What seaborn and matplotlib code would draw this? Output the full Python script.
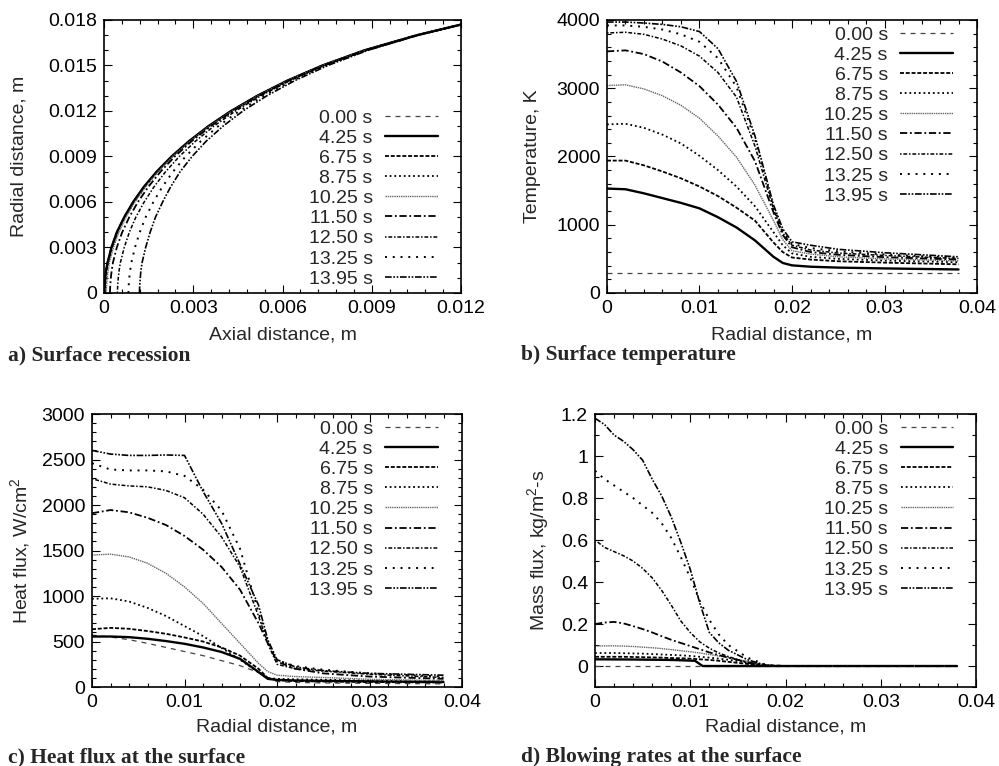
import numpy as np
import pandas as pd
import matplotlib
matplotlib.use("Agg")
import matplotlib.pyplot as plt
from matplotlib.ticker import AutoMinorLocator, FixedLocator, FixedFormatter
import seaborn as sns

# ---------------- data ----------------
labels = ["0.00 s", "4.25 s", "6.75 s", "8.75 s", "10.25 s", "11.50 s", "12.50 s", "13.25 s", "13.95 s"]

# (a) surface recession: radial distance vs axial distance
a_radial = [0, 0.0005, 0.001, 0.0015, 0.002, 0.003, 0.004, 0.005, 0.006, 0.007, 0.008, 0.009,
            0.010, 0.011, 0.012, 0.013, 0.014, 0.015, 0.016, 0.017, 0.0177]
a_000 = [0, 0.000007, 0.000026, 0.000059, 0.000106, 0.000238, 0.000426, 0.00067, 0.000972, 0.001336,
         0.001766, 0.002267, 0.002845, 0.003508, 0.004269, 0.005144, 0.006155, 0.007338, 0.008753,
         0.010515, 0.0120]
a_425 = [0.00001, 0.00002, 0.00004, 0.00007, 0.00012, 0.00025, 0.00043, 0.00068, 0.00098, 0.00134,
         0.00177, 0.00227, 0.00285, 0.00351, 0.00427, 0.00515, 0.00616, 0.00734, 0.00875, 0.01052, 0.0120]
a_675 = [0.00002, 0.00003, 0.00005, 0.00008, 0.00013, 0.00026, 0.00044, 0.00069, 0.00099, 0.00135,
         0.00178, 0.00228, 0.00286, 0.00352, 0.00428, 0.00515, 0.00616, 0.00734, 0.00875, 0.01052, 0.0120]
a_875 = [0.00004, 0.00005, 0.00007, 0.00010, 0.00014, 0.00028, 0.00046, 0.00070, 0.00101, 0.00137,
         0.00179, 0.00229, 0.00287, 0.00352, 0.00428, 0.00516, 0.00616, 0.00734, 0.00876, 0.01052, 0.0120]
a_1025 = [0.00008, 0.00009, 0.00011, 0.00014, 0.00018, 0.00032, 0.00050, 0.00074, 0.00104, 0.00140,
          0.00182, 0.00231, 0.00289, 0.00354, 0.00430, 0.00517, 0.00617, 0.00735, 0.00876, 0.01052, 0.0120]
a_1150 = [0.00020, 0.00021, 0.00023, 0.00026, 0.00030, 0.00043, 0.00061, 0.00085, 0.00114, 0.00149,
          0.00190, 0.00238, 0.00294, 0.00359, 0.00434, 0.00520, 0.00620, 0.00737, 0.00877, 0.01052, 0.0120]
a_1250 = [0.00045, 0.00046, 0.00048, 0.00051, 0.00055, 0.00068, 0.00085, 0.00107, 0.00135, 0.00168,
          0.00207, 0.00253, 0.00307, 0.00369, 0.00442, 0.00527, 0.00625, 0.00741, 0.00880, 0.01054, 0.0120]
a_1325 = [0.00082, 0.00083, 0.00085, 0.00088, 0.00092, 0.00104, 0.00120, 0.00140, 0.00166, 0.00196,
          0.00232, 0.00274, 0.00325, 0.00384, 0.00455, 0.00537, 0.00633, 0.00747, 0.00884, 0.01055, 0.0120]
a_1395 = [0.00119, 0.00120, 0.00122, 0.00124, 0.00128, 0.00140, 0.00155, 0.00173, 0.00197, 0.00224,
          0.00256, 0.00296, 0.00343, 0.00400, 0.00467, 0.00547, 0.00641, 0.00752, 0.00887, 0.01057, 0.0120]

# (b) surface temperature, K
b_radial = [0, 0.002, 0.004, 0.006, 0.008, 0.010, 0.012, 0.014, 0.016, 0.018, 0.019, 0.020, 0.022, 0.025, 0.030, 0.038]
b_000 = [300, 300, 300, 300, 300, 300, 300, 300, 300, 300, 300, 300, 300, 300, 300, 300]
b_425 = [1530, 1520, 1460, 1390, 1320, 1240, 1110, 960, 770, 530, 440, 405, 385, 372, 360, 345]
b_675 = [1940, 1940, 1870, 1780, 1680, 1560, 1420, 1250, 1060, 740, 600, 520, 490, 465, 445, 420]
b_875 = [2470, 2480, 2420, 2320, 2190, 2010, 1800, 1560, 1270, 890, 700, 580, 530, 500, 475, 450]
b_1025 = [3040, 3050, 2990, 2890, 2750, 2560, 2300, 1990, 1580, 1060, 780, 620, 570, 530, 500, 470]
b_1150 = [3540, 3555, 3500, 3390, 3230, 3030, 2760, 2420, 1930, 1180, 850, 670, 600, 560, 525, 490]
b_1250 = [3810, 3820, 3790, 3720, 3620, 3470, 3230, 2870, 2150, 1230, 880, 700, 630, 585, 550, 505]
b_1325 = [3920, 3920, 3900, 3860, 3790, 3680, 3440, 3020, 2250, 1260, 910, 720, 660, 610, 565, 515]
b_1395 = [3970, 3970, 3955, 3935, 3900, 3830, 3580, 3100, 2300, 1290, 940, 750, 700, 640, 590, 530]

# (c) heat flux, W/cm^2
c_radial = [0, 0.002, 0.004, 0.006, 0.008, 0.010, 0.012, 0.014, 0.016, 0.018, 0.019, 0.020, 0.022, 0.025, 0.030, 0.038]
c_000 = [570, 550, 520, 480, 435, 390, 345, 290, 235, 160, 95, 60, 50, 45, 40, 35]
c_425 = [555, 555, 548, 530, 505, 475, 435, 385, 310, 165, 90, 78, 72, 68, 62, 55]
c_675 = [635, 650, 640, 615, 585, 545, 500, 435, 345, 200, 100, 75, 65, 60, 55, 50]
c_875 = [970, 975, 940, 870, 780, 670, 560, 430, 300, 160, 100, 90, 85, 80, 70, 60]
c_1025 = [1450, 1460, 1430, 1360, 1250, 1100, 920, 700, 480, 260, 170, 130, 115, 105, 85, 70]
c_1150 = [1910, 1945, 1920, 1860, 1780, 1660, 1510, 1320, 1070, 700, 480, 280, 200, 150, 115, 90]
c_1250 = [2290, 2230, 2210, 2200, 2160, 2080, 1900, 1650, 1320, 780, 480, 250, 200, 175, 140, 105]
c_1325 = [2460, 2390, 2380, 2380, 2370, 2320, 2170, 1940, 1520, 820, 500, 290, 230, 190, 150, 115]
c_1395 = [2600, 2560, 2545, 2545, 2550, 2545, 2150, 1800, 1350, 900, 520, 300, 220, 180, 150, 130]

# (d) mass flux, kg/m^2-s
d_radial = [0, 0.001, 0.002, 0.003, 0.004, 0.005, 0.006, 0.007, 0.008, 0.009, 0.010, 0.011,
            0.012, 0.013, 0.014, 0.016, 0.018, 0.020, 0.025, 0.030, 0.038]
d_000 = [0] * 21
d_radial_425 = [0, 0.004, 0.008, 0.0105, 0.0113, 0.020, 0.038]
d_425 = [0.032, 0.031, 0.029, 0.025, 0.0, 0.0, 0.0]
d_675 = [0.044, 0.044, 0.044, 0.044, 0.043, 0.042, 0.041, 0.040, 0.038, 0.037, 0.035, 0.032,
         0.029, 0.025, 0.020, 0.010, 0.0, 0, 0, 0, 0]
d_875 = [0.062, 0.062, 0.062, 0.061, 0.060, 0.059, 0.057, 0.055, 0.053, 0.051, 0.048, 0.044,
         0.040, 0.035, 0.030, 0.017, 0.002, 0, 0, 0, 0]
d_1025 = [0.095, 0.096, 0.096, 0.095, 0.093, 0.090, 0.087, 0.083, 0.078, 0.073, 0.068, 0.062,
          0.055, 0.048, 0.040, 0.022, 0.003, 0, 0, 0, 0]
d_1150 = [0.200, 0.207, 0.210, 0.203, 0.190, 0.176, 0.160, 0.142, 0.125, 0.110, 0.095, 0.080,
          0.065, 0.052, 0.040, 0.018, 0.003, 0, 0, 0, 0]
d_1250 = [0.60, 0.565, 0.545, 0.525, 0.50, 0.465, 0.42, 0.36, 0.29, 0.215, 0.16, 0.115,
          0.085, 0.062, 0.045, 0.015, 0.0, 0, 0, 0, 0]
d_1325 = [0.93, 0.89, 0.86, 0.83, 0.80, 0.765, 0.73, 0.68, 0.61, 0.52, 0.42, 0.31,
          0.22, 0.15, 0.10, 0.04, 0.005, 0, 0, 0, 0]
d_1395 = [1.18, 1.15, 1.10, 1.07, 1.03, 0.98, 0.89, 0.81, 0.71, 0.59, 0.46, 0.30,
          0.16, 0.11, 0.075, 0.03, 0.003, 0, 0, 0, 0]

# tick labels
a_xticks = [0, 0.003, 0.006, 0.009, 0.012]
a_xticklabels = ["0", "0.003", "0.006", "0.009", "0.012"]
a_yticks = [0, 0.003, 0.006, 0.009, 0.012, 0.015, 0.018]
a_yticklabels = ["0", "0.003", "0.006", "0.009", "0.012", "0.015", "0.018"]
r_xticks = [0, 0.01, 0.02, 0.03, 0.04]
r_xticklabels = ["0", "0.01", "0.02", "0.03", "0.04"]
b_yticks = [0, 1000, 2000, 3000, 4000]
b_yticklabels = ["0", "1000", "2000", "3000", "4000"]
c_yticks = [0, 500, 1000, 1500, 2000, 2500, 3000]
c_yticklabels = ["0", "500", "1000", "1500", "2000", "2500", "3000"]
d_yticks = [0, 0.2, 0.4, 0.6, 0.8, 1.0, 1.2]
d_yticklabels = ["0", "0.2", "0.4", "0.6", "0.8", "1", "1.2"]

# ---------------- style ----------------
sns.set_style("ticks")
plt.rcParams["font.family"] = ["Liberation Sans", "DejaVu Sans"]
plt.rcParams["mathtext.default"] = "regular"
plt.rcParams["axes.linewidth"] = 1.2

styles = [
    dict(color="#444444", lw=0.9, linestyle=(0, (4, 4))),          # 0.00
    dict(color="black", lw=1.7, linestyle="-"),                     # 4.25
    dict(color="black", lw=1.3, linestyle=(0, (2.2, 1))),           # 6.75
    dict(color="black", lw=1.3, linestyle=(0, (1, 1.6))),           # 8.75
    dict(color="#666666", lw=1.0, linestyle=(0, (1, 0.6))),         # 10.25
    dict(color="black", lw=1.3, linestyle=(0, (4, 1.5, 1, 1.5))),   # 11.50
    dict(color="black", lw=1.1, linestyle=(0, (1, 1.2, 2.5, 1.2))), # 12.50
    dict(color="black", lw=1.4, linestyle=(0, (1, 3))),             # 13.25
    dict(color="black", lw=1.2, linestyle=(0, (4, 1, 1, 1, 1, 1))), # 13.95
]

fig = plt.figure(figsize=(9.99, 7.66), dpi=100)
ax_a = fig.add_axes([0.1041, 0.6175, 0.3574, 0.3564])
ax_b = fig.add_axes([0.6076, 0.6175, 0.3704, 0.3564])
ax_c = fig.add_axes([0.0921, 0.1031, 0.3704, 0.3564])
ax_d = fig.add_axes([0.5956, 0.1031, 0.3814, 0.3564])

FS = 14


def draw(ax, xs_list, ys_list):
    for xs, ys, lab, st in zip(xs_list, ys_list, labels, styles):
        df = pd.DataFrame({"x": xs, "y": ys})
        sns.lineplot(data=df, x="x", y="y", ax=ax, label=lab, sort=False,
                     estimator=None, **st)


draw(ax_a,
     [a_000, a_425, a_675, a_875, a_1025, a_1150, a_1250, a_1325, a_1395],
     [a_radial] * 9)
draw(ax_b, [b_radial] * 9,
     [b_000, b_425, b_675, b_875, b_1025, b_1150, b_1250, b_1325, b_1395])
draw(ax_c, [c_radial] * 9,
     [c_000, c_425, c_675, c_875, c_1025, c_1150, c_1250, c_1325, c_1395])
draw(ax_d, [d_radial, d_radial_425] + [d_radial] * 7,
     [d_000, d_425, d_675, d_875, d_1025, d_1150, d_1250, d_1325, d_1395])


def fmt(ax, xlim, ylim, xt, xtl, yt, ytl, xminor, yminor, xlabel, ylabel,
        legpos, ylab_x, xlab_y):
    ax.set_xlim(*xlim)
    ax.set_ylim(*ylim)
    ax.xaxis.set_major_locator(FixedLocator(xt))
    ax.xaxis.set_major_formatter(FixedFormatter(xtl))
    ax.yaxis.set_major_locator(FixedLocator(yt))
    ax.yaxis.set_major_formatter(FixedFormatter(ytl))
    ax.xaxis.set_minor_locator(AutoMinorLocator(xminor))
    ax.yaxis.set_minor_locator(AutoMinorLocator(yminor))
    ax.tick_params(which="both", direction="in", top=True, right=True,
                   colors="black", labelsize=FS, width=0.8)
    ax.tick_params(which="major", length=6, pad=5)
    ax.tick_params(which="minor", length=3)
    ax.set_xlabel(xlabel, fontsize=FS, va="center")
    ax.set_ylabel(ylabel, fontsize=FS, va="center")
    ax.yaxis.set_label_coords(ylab_x, 0.5)
    ax.xaxis.set_label_coords(0.5, xlab_y)
    for s in ax.spines.values():
        s.set_color("black")
        s.set_linewidth(1.2)
    leg = ax.legend(loc="upper right", bbox_to_anchor=legpos, frameon=False,
                    markerfirst=False, fontsize=FS, handlelength=2.7,
                    handletextpad=0.65, labelspacing=0.13, borderpad=0,
                    borderaxespad=0)
    return leg


fmt(ax_a, (0, 0.012), (0, 0.018), a_xticks, a_xticklabels, a_yticks, a_yticklabels,
    5, 3, "Axial distance, m", "Radial distance, m", (0.935, 0.674), -0.238, -0.154)
fmt(ax_b, (0, 0.04), (0, 4000), r_xticks, r_xticklabels, b_yticks, b_yticklabels,
    5, 5, "Radial distance, m", "Temperature, K", (0.935, 0.978), -0.20, -0.154)
fmt(ax_c, (0, 0.04), (0, 3000), r_xticks, r_xticklabels, c_yticks, c_yticklabels,
    5, 5, "Radial distance, m", "Heat flux, W/cm$^{2}$", (0.935, 0.978), -0.195, -0.147)
fmt(ax_d, (0, 0.04), (-0.1, 1.2), r_xticks, r_xticklabels, d_yticks, d_yticklabels,
    5, 2, "Radial distance, m", "Mass flux, kg/m$^{2}$-s", (0.94, 0.978), -0.15, -0.147)

cap = dict(fontsize=15.5, fontweight="bold", family=["Liberation Serif", "DejaVu Serif"],
           va="center", ha="left")
fig.text(8 / 999, 1 - 355 / 766, "a) Surface recession", **cap)
fig.text(521 / 999, 1 - 355 / 766, "b) Surface temperature", **cap)
fig.text(8 / 999, 1 - 757 / 766, "c) Heat flux at the surface", **cap)
fig.text(521 / 999, 1 - 757 / 766, "d) Blowing rates at the surface", **cap)

fig.savefig("out.png", dpi=100, facecolor="white")
